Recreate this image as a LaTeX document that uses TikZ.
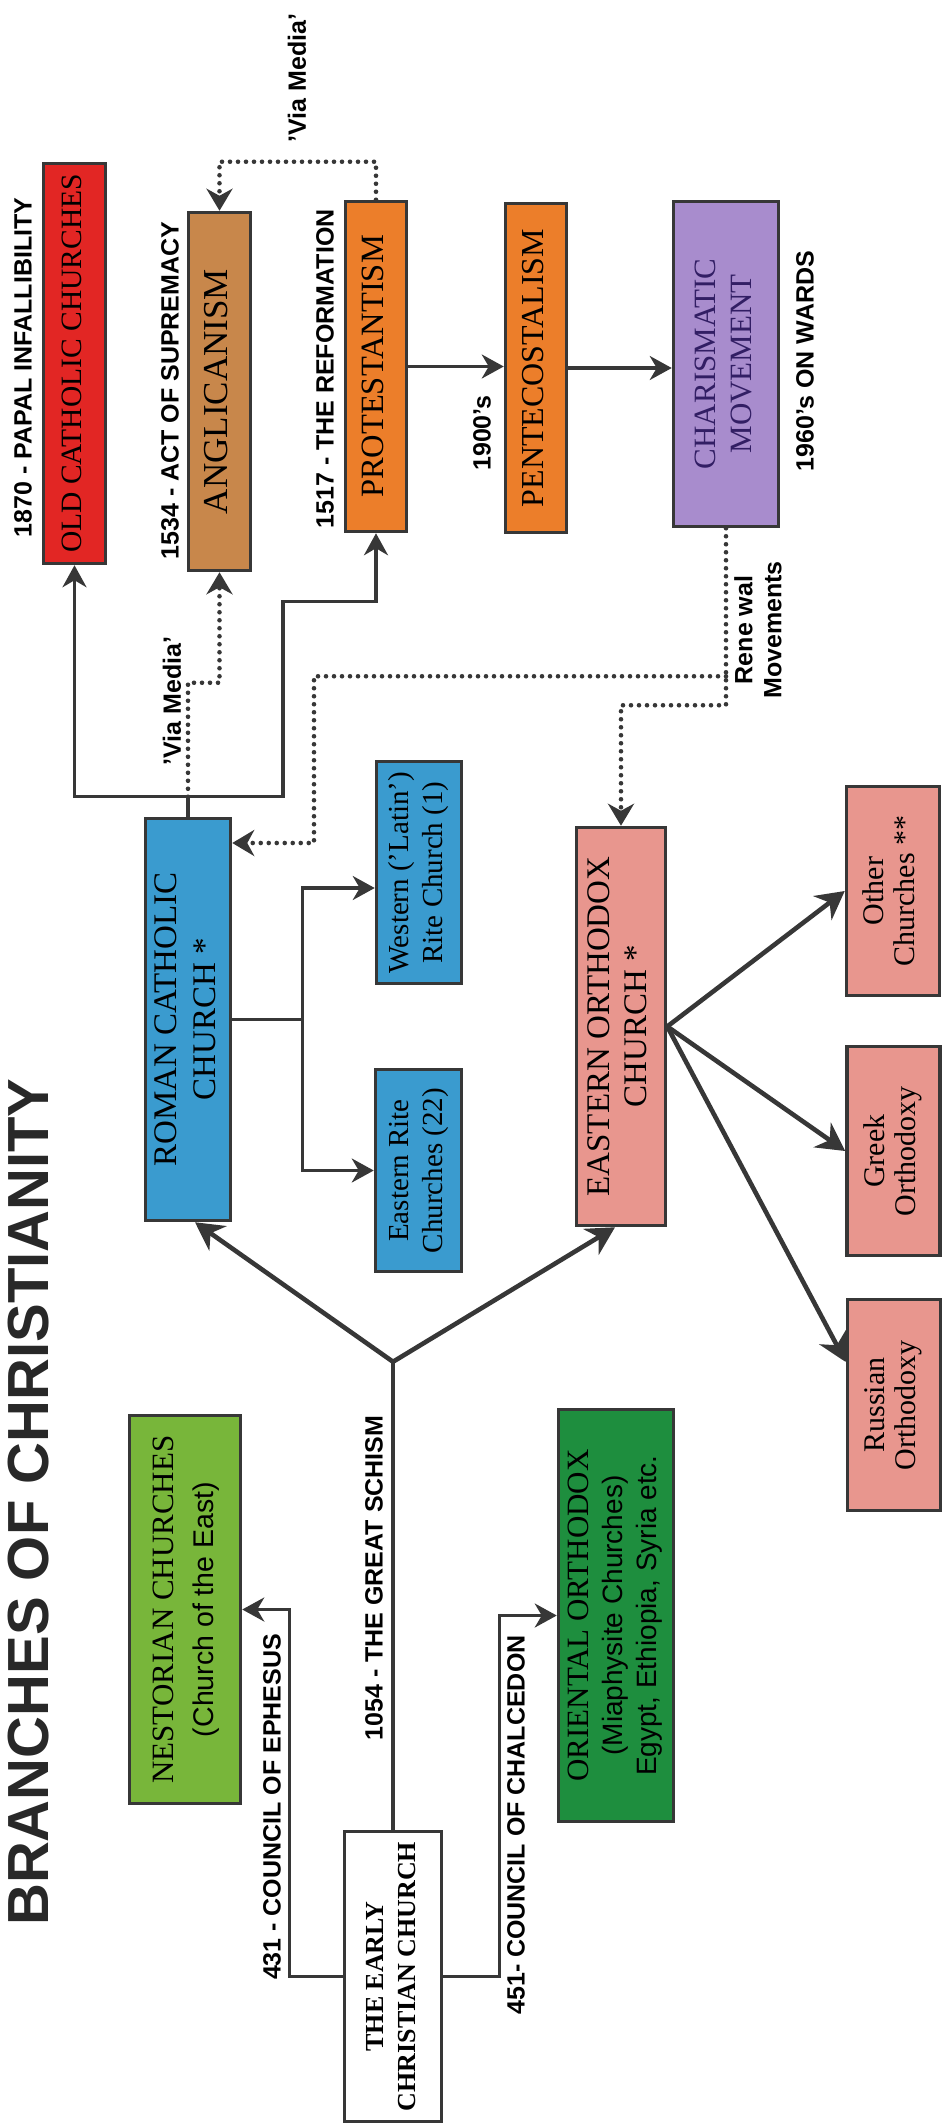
\documentclass[tikz,border=0pt]{standalone}
\usepackage{fontspec}
\setmainfont{Liberation Serif}
\setsansfont{Liberation Sans}
\usetikzlibrary{arrows.meta,calc}

\definecolor{linegray}{RGB}{55,55,55}
\definecolor{redbox}{RGB}{226,38,36}
\definecolor{brownbox}{RGB}{200,135,75}
\definecolor{orangebox}{RGB}{236,126,42}
\definecolor{purplebox}{RGB}{168,140,205}
\definecolor{charistext}{RGB}{50,30,100}
\definecolor{bluebox}{RGB}{58,155,207}
\definecolor{pinkbox}{RGB}{232,150,142}
\definecolor{lightgreen}{RGB}{120,182,58}
\definecolor{darkgreen}{RGB}{30,142,62}
\definecolor{titlegray}{RGB}{40,40,40}

\newcommand{\vtext}[1]{\rotatebox{90}{\begin{tabular}{@{}c@{}}#1\end{tabular}}}

\begin{document}
\begin{tikzpicture}[x=1pt, y=1pt,
  box/.style={draw=linegray, line width=3.5pt, inner sep=0pt, text=black},
  conn/.style={draw=linegray, line width=3.3pt},
  arr/.style={conn, -{Stealth[length=22pt, width=24pt, inset=7pt]}},
  bigline/.style={draw=linegray, line width=4.6pt, line cap=round},
  bigarr/.style={bigline, -{Stealth[length=28pt, width=30pt, inset=9pt]}},
  dots/.style={draw=linegray, line width=4.6pt, line cap=round, dash pattern=on 0pt off 8pt},
  dotarr/.style={dots, -{Stealth[length=22pt, width=26pt, inset=7pt]}},
  lbl/.style={rotate=90, inner sep=0pt, text=black, font=\sffamily\bfseries\fontsize{25}{29}\selectfont}]
  \useasboundingbox (0,0) rectangle (944,-2126);

  \node[rotate=90, inner sep=0pt, text=titlegray, font=\sffamily\bfseries\fontsize{58}{60}\selectfont] (title) at (29,-1502) {BRANCHES OF CHRISTIANITY};

  % top row
  \node[box, fill=redbox, minimum width=62, minimum height=400, font=\fontsize{29.5}{34}\selectfont] (oldcath) at (74.5,-363.5) {\vtext{OLD CATHOLIC CHURCHES}};
  \node[box, fill=brownbox, minimum width=62, minimum height=358, font=\fontsize{35}{38}\selectfont] (anglic) at (219.5,-391.5) {\vtext{ANGLICANISM}};
  \node[box, fill=orangebox, minimum width=61, minimum height=330, font=\fontsize{32.5}{36}\selectfont] (protest) at (376,-366.5) {\vtext{PROTESTANTISM}};
  \node[box, fill=orangebox, minimum width=61, minimum height=329, font=\fontsize{32}{36}\selectfont] (pente) at (536,-368) {\vtext{PENTECOSTALISM}};
  \node[box, fill=purplebox, text=charistext, minimum width=105, minimum height=325, font=\fontsize{31}{36}\selectfont] (charis) at (726,-364) {\vtext{CHARISMATIC\\MOVEMENT}};

  % middle
  \node[box, fill=bluebox, minimum width=85, minimum height=402, font=\fontsize{33}{39}\selectfont] (roman) at (188,-1019.5) {\vtext{ROMAN CATHOLIC\\CHURCH *}};
  \node[box, fill=bluebox, minimum width=85, minimum height=222, font=\fontsize{29}{34}\selectfont] (western) at (419,-872.5) {\vtext{Western ('Latin')\\Rite Church (1)}};
  \node[box, fill=bluebox, minimum width=86, minimum height=202, font=\fontsize{29}{34}\selectfont] (eastrite) at (418.5,-1170.5) {\vtext{Eastern Rite\\Churches (22)}};
  \node[box, fill=pinkbox, minimum width=89, minimum height=398, font=\fontsize{33}{37}\selectfont] (eastorth) at (621,-1026.5) {\vtext{EASTERN ORTHODOX\\CHURCH *}};
  \node[box, fill=pinkbox, minimum width=93, minimum height=209, font=\fontsize{30}{31}\selectfont] (other) at (893,-891) {\vtext{Other\\Churches **}};
  \node[box, fill=pinkbox, minimum width=93, minimum height=209, font=\fontsize{30}{31}\selectfont] (greek) at (893.5,-1151) {\vtext{Greek\\Orthodoxy}};
  \node[box, fill=pinkbox, minimum width=93, minimum height=211, font=\fontsize{30}{31}\selectfont] (russian) at (894,-1405) {\vtext{Russian\\Orthodoxy}};

  % bottom
  \node[box, fill=lightgreen, minimum width=111, minimum height=388, font=\fontsize{31}{40}\selectfont] (nestor) at (185,-1609.5) {\vtext{NESTORIAN CHURCHES\\{\sffamily\fontsize{28.5}{40}\selectfont (Church of the East)}}};
  \node[box, fill=darkgreen, minimum width=115, minimum height=412, font=\fontsize{31}{34}\selectfont] (orient) at (616,-1615.5) {\vtext{ORIENTAL ORTHODOX\\{\sffamily\fontsize{28}{34}\selectfont (Miaphysite Churches)}\\{\sffamily\fontsize{28}{34}\selectfont Egypt, Ethiopia, Syria etc.}}};
  \node[box, fill=white, minimum width=97, minimum height=290, font=\bfseries\fontsize{26}{32}\selectfont] (early) at (393,-1976.5) {\vtext{THE EARLY\\CHRISTIAN CHURCH}};

  % labels
  \node[lbl] (papal) at (23,-367.5) {1870 - PAPAL INFALLIBILITY};
  \node[lbl] (supremacy) at (170,-390.5) {1534 - ACT OF SUPREMACY};
  \node[lbl] (reformation) at (325,-369) {1517 - THE REFORMATION};
  \node[lbl] (viatop) at (297,-78) {'Via Media'};
  \node[lbl] (viabottom) at (172,-701) {'Via Media'};
  \node[lbl] (nineteen) at (482,-433) {1900's};
  \node[lbl] (sixties) at (805,-361) {1960's ON WARDS};
  \node[lbl, align=center] (renewal) at (758,-630) {Rene wal\\Movements};
  \node[lbl] (schismlbl) at (374,-1578) {1054 - THE GREAT SCHISM};
  \node[lbl] (ephesus) at (272,-1807) {431 - COUNCIL OF EPHESUS};
  \node[lbl] (chalcedon) at (516,-1825) {451- COUNCIL OF CHALCEDON};

  % connectors
  \coordinate (rcup) at ([yshift=20pt]roman.north);
  \draw[conn] (roman.north) -- (rcup);
  \draw[arr] (rcup) -| (oldcath.south);
  \draw[arr] (rcup) -- ++(95,0) -- ++(0,195) -| (protest.south);
  \draw[dotarr] (rcup) -- ++(0,114) -| (anglic.south);
  \draw[dotarr] (protest.north) -- ++(0,38) -| (anglic.north);
  \draw[arr] (protest.east) -- (protest.east -| pente.west);
  \draw[arr] (pente.east) -- (pente.east -| charis.west);

  \coordinate (renew) at ([yshift=-148pt]charis.south);
  \draw[dotarr] (charis.south) -- ++(0,-177) -| (eastorth.north);
  \draw[dotarr] (renew) -- ++(-412,0) |- ([yshift=176.5pt]roman.east);

  \draw[conn] (roman.east) -- ++(70,0) coordinate (rcfork);
  \draw[arr] (rcfork) |- ([yshift=-15.5pt]western.west);
  \draw[arr] (rcfork) |- (eastrite.west);

  \draw[arr] (early.west) -- ++(-53,0) |- (nestor.east);
  \draw[arr] (early.east) -- ++(56,0) |- (orient.west);
  \draw[bigline] (early.north) -- ++(0,468) coordinate (schism);
  \draw[bigarr] (schism) -- ([xshift=7pt]roman.south);
  \draw[bigarr] (schism) -- ([xshift=-6pt]eastorth.south);

  \draw[bigarr] (eastorth.east) -- (other.west);
  \draw[bigarr] (eastorth.east) -- (greek.west);
  \draw[bigarr] (eastorth.east) -- ([yshift=43pt]russian.west);
\end{tikzpicture}
\end{document}
